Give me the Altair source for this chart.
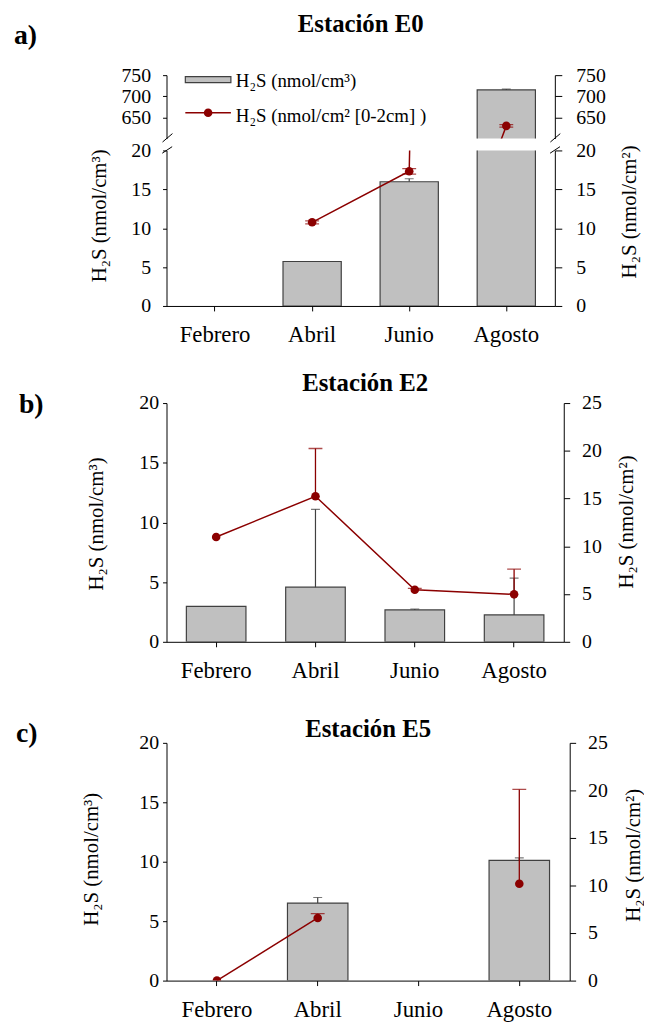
import altair as alt
import pandas as pd

meses = ["Febrero", "Abril", "Junio", "Agosto"]

# Estación E0
e0_bar = [None, 5.72, 15.97, 715.0]
e0_bar_hi = [None, None, 16.36, 717.0]
e0_line = [None, 10.76, 17.33, 630.0]
e0_line_lo = [None, 10.55, 16.95, 627.0]
e0_line_hi = [None, 10.95, 17.67, 633.0]
# Estación E2
e2_bar = [2.97, 4.58, 2.67, 2.25]
e2_bar_hi = [None, 11.1, 2.75, 5.33]
e2_line = [10.97, 15.24, 5.45, 4.97]
e2_line_lo = [None, 15.24, 5.45, 4.97]
e2_line_hi = [None, 20.24, 5.6, 7.6]
# Estación E5
e5_bar = [None, 6.52, None, 10.12]
e5_bar_hi = [None, 6.99, None, 10.32]
e5_line = [0.0, 6.59, None, 10.19]
e5_line_lo = [None, 6.59, None, 10.19]
e5_line_hi = [None, 7.04, None, 20.1]

titles = ["Estación E0", "Estación E2", "Estación E5"]
panel_tags = ["a)", "b)", "c)"]
y_title_left = "H₂S (nmol/cm³)"
y_title_right = "H₂S (nmol/cm²)"
legend_bar = "H₂S (nmol/cm³)"
legend_line = "H₂S (nmol/cm² [0-2cm] )"

FONT = "Liberation Serif"
RED = "#8b0000"
GRAY = "#c0c0c0"
EDGE = "#404040"

one = pd.DataFrame({"k": [0]})


def frame(bar, bar_hi, line, lo, hi):
    return pd.DataFrame({"mes": meses, "bar": bar, "bar_lo": bar, "bar_hi": bar_hi,
                         "line": line, "lo": lo, "hi": hi})


def yaxis(vals, orient, lpad, tsize, title):
    kw = dict(values=vals, orient=orient, tickSize=tsize, labelPadding=lpad,
              labelFontSize=20, labelOverlap=False, grid=False)
    if title is not None:
        kw.update(title=title[0], titleX=title[1], titleY=title[2], titleAngle=270,
                  titleAlign="center", titleBaseline="middle", titleFontSize=21,
                  titleFontWeight="normal")
    else:
        kw.update(title=None)
    return alt.Axis(**kw)


def build(df, W, H, dom_l, vals_l, dom_r, vals_r, lpad_l, lpad_r, tick_r,
          title_l, title_r, show_x, extras):
    xs = alt.Scale(domain=meses, paddingInner=0.4, paddingOuter=0.2)
    if show_x:
        xax = alt.Axis(title=None, labelAngle=0, tickSize=5, labelPadding=13,
                       labelFontSize=23)
    else:
        xax = None
    x = alt.X("mes:N", sort=meses, scale=xs, axis=xax)
    ysl = alt.Scale(domain=dom_l)
    ysr = alt.Scale(domain=dom_r)
    lax = yaxis(vals_l, "left", lpad_l, 4, title_l)
    rax = yaxis(vals_r, "right", lpad_r, tick_r, title_r)
    base = alt.Chart(df)

    bars = base.mark_bar(fill=GRAY, stroke=EDGE, strokeWidth=1.2, clip=True).encode(
        x=x, y=alt.Y("bar:Q", scale=ysl, axis=lax))
    erule = base.transform_filter("datum.bar_hi != null").mark_rule(
        color=EDGE, strokeWidth=1.2, clip=True).encode(
        x=x, y=alt.Y("bar_lo:Q", scale=ysl, axis=lax), y2="bar_hi:Q")
    ecap = base.transform_filter("datum.bar_hi != null").mark_tick(
        color=EDGE, thickness=1.2, size=9, clip=True).encode(
        x=x, y=alt.Y("bar_hi:Q", scale=ysl, axis=lax))
    bar_group = alt.layer(bars, erule, ecap)

    line = base.mark_line(color=RED, strokeWidth=1.5, clip=True,
                          invalid="break-paths-show-domains").encode(
        x=x, y=alt.Y("line:Q", scale=ysr, axis=rax))
    rrule = base.transform_filter("datum.hi != null").mark_rule(
        color=RED, strokeWidth=1.3, clip=True).encode(
        x=x, y=alt.Y("lo:Q", scale=ysr, axis=rax), y2="hi:Q")
    rcap = base.transform_filter("datum.hi != null").mark_tick(
        color=RED, thickness=1.3, size=14, clip=True).encode(
        x=x, y=alt.Y("hi:Q", scale=ysr, axis=rax))
    rcap_lo = base.transform_filter("datum.lo != null && datum.lo < datum.line").mark_tick(
        color=RED, thickness=1.3, size=14, clip=True).encode(
        x=x, y=alt.Y("lo:Q", scale=ysr, axis=rax))
    pts = base.mark_circle(color=RED, size=75, opacity=1, clip=True).encode(
        x=x, y=alt.Y("line:Q", scale=ysr, axis=rax))
    line_group = alt.layer(line, rrule, rcap, rcap_lo, pts)

    return alt.layer(bar_group, line_group, *extras).resolve_scale(
        y="independent").properties(width=W, height=H)


def text(s, x, y, size, weight="normal", align="left"):
    return alt.Chart(one).mark_text(font=FONT, fontSize=size, fontWeight=weight,
                                    align=align, baseline="alphabetic",
                                    color="black").encode(
        x=alt.value(x), y=alt.value(y), text=alt.value(s))


def slash(x0, y0, x1, y1):
    return alt.Chart(one).mark_rule(color="black", strokeWidth=1).encode(
        x=alt.value(x0), x2=alt.value(x1), y=alt.value(y0), y2=alt.value(y1))


dfa = frame(e0_bar, e0_bar_hi, e0_line, e0_line_lo, e0_line_hi)
dfb = frame(e2_bar, e2_bar_hi, e2_line, e2_line_lo, e2_line_hi)
dfc = frame(e5_bar, e5_bar_hi, e5_line, e5_line_lo, e5_line_hi)

WA, HU, HL = 392, 64, 157
WB, HB = 401, 241
WC, HC = 407, 240

legend = [
    alt.Chart(one).mark_rect(fill=GRAY, stroke=EDGE, strokeWidth=1.2).encode(
        x=alt.value(19), x2=alt.value(65), y=alt.value(1.5), y2=alt.value(7.5)),
    alt.Chart(one).mark_rule(color=RED, strokeWidth=1.5).encode(
        x=alt.value(19), x2=alt.value(65), y=alt.value(38)),
    alt.Chart(one).mark_circle(color=RED, size=75, opacity=1).encode(
        x=alt.value(42), y=alt.value(38)),
    text(legend_bar, 70, 11.5, 19),
    text(legend_line, 70, 47.5, 19),
]

upper = build(dfa, WA, HU, [600, 750], [650, 700, 750], [600, 750], [650, 700, 750],
              12, 14, 7, None, None, False,
              [text(titles[0], WA / 2, -44, 25, "bold", "center"),
               text(panel_tags[0], -154, -31.3, 28, "bold"),
               slash(-4, HU + 3.5, 6, HU - 5),
               slash(WA - 4.5, HU + 3.5, WA + 5.5, HU - 5)] + legend)

lower = build(dfa, WA, HL, [0, 20], [0, 5, 10, 15, 20], [0, 20], [0, 5, 10, 15, 20],
              12, 14, 7, (y_title_left, -68, 65.5), (y_title_right, 75, 61.5), True,
              [slash(-4.3, 2.8, 5.7, -3.8),
               slash(WA - 4.8, 2.8, WA + 5.2, -3.8)])

panel_b = build(dfb, WB, HB, [0, 20], [0, 5, 10, 15, 20], [0, 25], [0, 5, 10, 15, 20, 25],
                4, 12, 6, (y_title_left, -71, 121.5), (y_title_right, 63, 119.5), True,
                [text(titles[1], WB / 2, -12.3, 25, "bold", "center"),
                 text(panel_tags[1], -149, 10, 28, "bold")])

panel_c = build(dfc, WC, HC, [0, 20], [0, 5, 10, 15, 20], [0, 25], [0, 5, 10, 15, 20, 25],
                4, 12, 6, (y_title_left, -76, 117), (y_title_right, 64, 113), True,
                [text(titles[2], WC / 2, -5.5, 25, "bold", "center"),
                 text(panel_tags[2], -152, -1.3, 28, "bold")])


def spacer(h):
    return alt.Chart(one).mark_point(opacity=0).encode(
        x=alt.value(0), y=alt.value(0)).properties(width=10, height=h)


chart = alt.vconcat(upper, lower, spacer(74), panel_b, spacer(78), panel_c,
                    spacing=12, bounds="flush").properties(
    padding={"left": 5, "top": -2, "right": 0, "bottom": -5}
).configure(font=FONT).configure_view(stroke="transparent").configure_axis(
    domainColor="black", tickColor="black", labelColor="black", titleColor="black",
    labelFont=FONT, titleFont=FONT, domainWidth=1, tickWidth=1, grid=False)

chart.save("out.html", embed_options={"renderer": "svg", "actions": False})
